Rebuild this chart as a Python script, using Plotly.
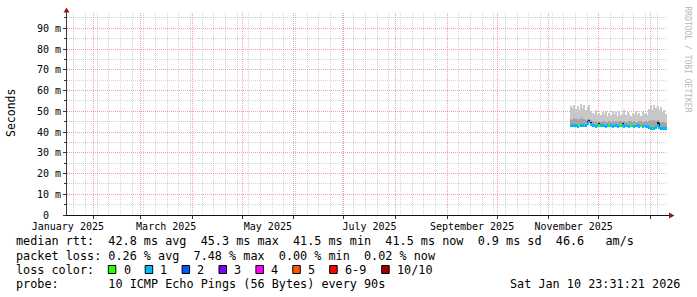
import pandas as pd
import plotly.graph_objects as go

# ---------------- data ----------------
END_TIME = "2026-01-10 23:31:21"
SPAN_DAYS = 360
DATA_FIRST_DAY = "2025-11-14"
DATA_LAST_DAY = "2026-01-10"

# per-day median rtt (ms)
median_ms = [43.0, 42.9, 43.1, 43.0, 42.8, 42.9, 43.0, 43.1, 42.9, 43.2,
             44.0, 44.8, 43.4, 43.0, 42.9, 42.8, 43.0, 43.2, 43.1, 43.0,
             42.9, 42.8, 43.0, 42.9, 43.0, 42.8, 42.9, 43.0, 42.8, 42.9,
             43.0, 43.1, 42.8, 43.0, 42.9, 42.8, 43.0, 42.9, 42.8, 42.9,
             43.0, 42.8, 42.9, 42.8, 42.9, 42.7, 42.6, 42.0, 41.8, 41.7,
             41.8, 42.0, 43.0, 42.3, 41.8, 41.6, 41.5, 41.5]
# per-day max ping (top of the smoke, ms)
smoke_max_ms = [52.5, 51.8, 53.2, 51.0, 52.6, 50.8, 53.6, 51.5, 52.8, 50.5,
                51.9, 53.0, 50.2, 49.0, 48.5, 50.6, 48.2, 49.3, 48.0, 49.8,
                48.6, 50.2, 47.9, 49.1, 48.4, 50.0, 48.8, 49.5, 47.8, 49.9,
                48.3, 49.2, 50.4, 48.1, 49.6, 48.9, 47.7, 49.4, 48.6, 50.1,
                48.2, 49.0, 47.9, 49.7, 48.5, 49.2, 48.0, 51.0, 52.8, 50.5,
                53.0, 51.4, 52.6, 50.8, 52.2, 49.5, 50.5, 48.8]
# per-day top of the dense smoke (ms)
smoke_mid_ms = [46.5, 46.0, 46.8, 46.2, 46.4, 45.8, 46.6, 46.1, 46.3, 45.9,
                46.2, 46.5, 45.6, 45.2, 44.9, 45.4, 45.0, 45.3, 44.8, 45.5,
                45.1, 45.0, 44.8, 45.3, 45.0, 45.4, 44.9, 45.2, 44.8, 45.1,
                45.3, 44.9, 45.2, 45.0, 44.8, 45.3, 45.1, 44.9, 45.2, 45.0,
                44.8, 45.1, 45.3, 44.9, 45.0, 45.2, 44.8, 45.5, 45.8, 45.2,
                45.9, 45.4, 45.6, 45.3, 45.0, 44.6, 44.8, 44.4]
# per-day top of the darkest smoke (ms), None where absent
smoke_dark_ms = [None, None, None, None, None, None, None, None, None, None,
                 45.4, 46.0, 44.6, None, None, None, None, 44.2, 44.0, None,
                 None, None, None, None, None, None, None, None, None, None,
                 None, 44.1, None, None, None, None, None, None, None, None,
                 None, None, None, None, None, None, None, None, None, None,
                 None, None, 45.0, 44.2, None, None, None, None]
# per-day loss level (index into loss legend)
loss_level = [1, 1, 1, 1, 1, 0, 1, 1, 1, 1,
              1, 1, 1, 1, 1, 1, 1, 0, 1, 1,
              1, 1, 1, 0, 1, 1, 1, 1, 1, 1,
              0, 1, 1, 1, 1, 1, 0, 1, 1, 1,
              1, 1, 0, 1, 1, 1, 1, 1, 1, 0,
              1, 1, 1, 1, 1, 1, 1, 1]

loss_labels = ["0", "1", "2", "3", "4", "5", "6-9", "10/10"]
loss_colors = ["#26ff00", "#00b8ff", "#0059ff", "#7e00ff", "#ff00ff",
               "#ff5500", "#ff0000", "#a10000"]

y_tick_ms = [0, 10, 20, 30, 40, 50, 60, 70, 80, 90]
y_tick_text = ["0\u00a0\u00a0", "10 m", "20 m", "30 m", "40 m", "50 m",
               "60 m", "70 m", "80 m", "90 m"]
y_minor_ms = [5, 15, 25, 35, 45, 55, 65, 75, 85, 95]
y_max_ms = 97.35

x_label_dates = ["2025-01-16 12:00", "2025-03-16 12:00", "2025-05-16 12:00",
                 "2025-07-16 12:00", "2025-09-16 00:00", "2025-11-16 00:00"]
x_label_text = ["January 2025", "March 2025", "May 2025", "July 2025",
                "September 2025", "November 2025"]

legend_lines = [
    "median rtt:  42.8 ms avg  45.3 ms max  41.5 ms min  41.5 ms now  0.9 ms sd  46.6   am/s",
    "packet loss: 0.26 % avg  7.48 % max  0.00 % min  0.02 % now",
    "loss color:",
    "probe:       10 ICMP Echo Pings (56 Bytes) every 90s",
]
stamp_text = "Sat Jan 10 23:31:21 2026"
watermark = "RRDTOOL / TOBI OETIKER"

# ---------------- derived ----------------
end = pd.Timestamp(END_TIME)
start = end - pd.Timedelta(days=SPAN_DAYS)
days = pd.date_range(DATA_FIRST_DAY, DATA_LAST_DAY, freq="D")
centers = days + pd.Timedelta(hours=12)
DAY_MS = 86400000 * 1.03

month_starts = pd.date_range("2025-02-01", "2026-01-01", freq="MS")
mondays = [d for d in pd.date_range("2025-01-20", "2026-01-05", freq="7D")
           if d not in set(month_starts)]

MONO = "DejaVu Sans Mono"
MAJOR_GRID = "rgba(228,70,70,0.5)"
MINOR_GRID = "rgba(130,130,130,0.36)"

W, H = 697, 297
L, R, T, B = 67, 30, 13, 82
PW, PH = W - L - R, H - T - B


def px2x(px):
    return (px - L) / PW


def py2y(py):
    return (T + PH - py) / PH


fig = go.Figure()

s = lambda v: v / 1000.0

# light smoke
fig.add_trace(go.Bar(
    x=centers, base=[s(m) for m in median_ms],
    y=[s(h - m) for h, m in zip(smoke_max_ms, median_ms)],
    width=DAY_MS, marker=dict(color="#c8c8c8", line=dict(width=0)),
    hoverinfo="skip", showlegend=False))
# dense smoke
fig.add_trace(go.Bar(
    x=centers, base=[s(m) for m in median_ms],
    y=[s(h - m) for h, m in zip(smoke_mid_ms, median_ms)],
    width=DAY_MS, marker=dict(color="#a4a4a4", line=dict(width=0)),
    hoverinfo="skip", showlegend=False))
# darkest smoke
fig.add_trace(go.Bar(
    x=centers, base=[s(m) for m in median_ms],
    y=[None if h is None else s(h - m) for h, m in zip(smoke_dark_ms, median_ms)],
    width=DAY_MS, marker=dict(color="#1a1a1a", line=dict(width=0)),
    hoverinfo="skip", showlegend=False))
# median line coloured by loss
THICK = 1.4
fig.add_trace(go.Bar(
    x=centers, base=[s(m - THICK / 2) for m in median_ms],
    y=[s(THICK)] * len(median_ms),
    width=DAY_MS,
    marker=dict(color=[loss_colors[k] for k in loss_level], line=dict(width=0)),
    hoverinfo="skip", showlegend=False))
# dummy trace so the label axis is drawn
fig.add_trace(go.Scatter(x=[start], y=[0], xaxis="x2", mode="markers",
                         marker=dict(opacity=0), hoverinfo="skip",
                         showlegend=False))

shapes = []
# axis lines
shapes.append(dict(type="line", xref="paper", yref="paper",
                   x0=px2x(66.5), x1=px2x(66.5), y0=py2y(215.5), y1=py2y(9),
                   line=dict(color="#3a3a3a", width=1), layer="above"))
shapes.append(dict(type="line", xref="paper", yref="paper",
                   x0=px2x(66), x1=px2x(670), y0=py2y(215.5), y1=py2y(215.5),
                   line=dict(color="#111111", width=1), layer="above"))
# arrows
shapes.append(dict(type="path", xref="paper", yref="paper",
                   path=f"M {px2x(63.5)} {py2y(12.5)} L {px2x(69.5)} {py2y(12.5)} L {px2x(66.5)} {py2y(7.5)} Z",
                   fillcolor="#8b1a1a", line=dict(width=0), layer="above"))
shapes.append(dict(type="path", xref="paper", yref="paper",
                   path=f"M {px2x(669)} {py2y(212.5)} L {px2x(669)} {py2y(218.5)} L {px2x(674.5)} {py2y(215.5)} Z",
                   fillcolor="#8b1a1a", line=dict(width=0), layer="above"))

annotations = []
line_y = [241.5, 255.5, 269.5, 283.5]
for txt, yy in zip(legend_lines, line_y):
    annotations.append(dict(
        text=txt.replace(" ", "\u00a0"), xref="paper", yref="paper",
        x=px2x(14.5), y=py2y(yy), xanchor="left", yanchor="middle",
        showarrow=False, borderpad=0,
        font=dict(family=MONO, size=11.8, color="black")))
annotations.append(dict(
    text=stamp_text.replace(" ", "\u00a0"), xref="paper", yref="paper",
    x=px2x(681), y=py2y(line_y[3]), xanchor="right", yanchor="middle",
    showarrow=False, borderpad=0,
    font=dict(family=MONO, size=11.8, color="black")))

# loss colour legend squares and labels
sq_left = [108.3 + 36.9 * i for i in range(7)] + [381.7]
for xl, lab, col in zip(sq_left, loss_labels, loss_colors):
    shapes.append(dict(type="rect", xref="paper", yref="paper",
                       x0=px2x(xl), x1=px2x(xl + 7.5),
                       y0=py2y(line_y[2] + 4), y1=py2y(line_y[2] - 4),
                       fillcolor=col, line=dict(color="black", width=1),
                       layer="above"))
    annotations.append(dict(
        text=lab, xref="paper", yref="paper", x=px2x(xl + 14.2),
        y=py2y(line_y[2]), xanchor="left", yanchor="middle",
        showarrow=False, borderpad=0,
        font=dict(family=MONO, size=11.8, color="black")))

# y title
annotations.append(dict(
    text="Seconds", xref="paper", yref="paper", x=px2x(10.5), y=py2y(113.5),
    xanchor="center", yanchor="middle", textangle=-90, showarrow=False,
    font=dict(family=MONO, size=11.5, color="black")))
# watermark
annotations.append(dict(
    text=watermark.replace(" ", "\u00a0"), xref="paper", yref="paper",
    x=px2x(686.5), y=py2y(59), xanchor="center", yanchor="middle",
    textangle=90, showarrow=False,
    font=dict(family=MONO, size=8, color="#b8b8b8")))

fig.update_layout(
    width=W, height=H,
    margin=dict(l=L, r=R, t=T, b=B, pad=0),
    paper_bgcolor="white", plot_bgcolor="white",
    barmode="overlay", bargap=0,
    showlegend=False,
    xaxis=dict(
        type="date", range=[start, end],
        tickmode="array", tickvals=list(month_starts), showticklabels=False,
        showgrid=True, gridcolor=MAJOR_GRID, griddash="1px,1px", gridwidth=1,
        ticks="outside", ticklen=3, tickcolor="#333333", tickwidth=1,
        minor=dict(tickmode="array", tickvals=mondays, showgrid=True,
                   gridcolor=MINOR_GRID, griddash="1px,1px", gridwidth=1,
                   ticks="", ticklen=0),
        zeroline=False, showline=False, fixedrange=True,
    ),
    xaxis2=dict(
        type="date", range=[start, end], overlaying="x", anchor="y",
        side="bottom", tickmode="array", tickvals=x_label_dates,
        ticktext=x_label_text, showgrid=False, ticks="", zeroline=False,
        showline=False, ticklabelstandoff=4,
        tickfont=dict(family=MONO, size=10, color="black"),
    ),
    yaxis=dict(
        range=[0, s(y_max_ms)], tickmode="array",
        tickvals=[s(v) for v in y_tick_ms], ticktext=y_tick_text,
        showgrid=True, gridcolor=MAJOR_GRID, griddash="1px,1px", gridwidth=1,
        ticks="outside", ticklen=3, tickcolor="#333333", tickwidth=1,
        minor=dict(tickmode="array", tickvals=[s(v) for v in y_minor_ms],
                   showgrid=True, gridcolor=MINOR_GRID, griddash="1px,1px",
                   gridwidth=1, ticks="outside", ticklen=2,
                   tickcolor="#333333"),
        zeroline=False, showline=False, ticklabelstandoff=0,
        tickfont=dict(family=MONO, size=10, color="black"),
    ),
    shapes=shapes, annotations=annotations,
)

fig.write_html("out.html")
